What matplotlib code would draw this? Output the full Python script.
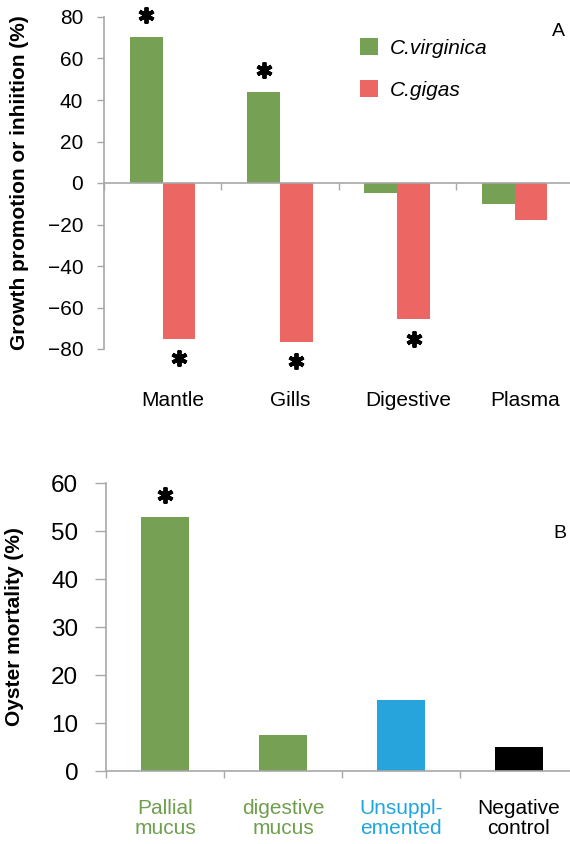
import matplotlib
matplotlib.use('Agg')
import matplotlib.pyplot as plt
import matplotlib.transforms as mtransforms
import numpy as np

plt.rcParams['font.family'] = ['Liberation Sans', 'DejaVu Sans']

# panel A: growth promotion / inhibition by tissue extract
tissues = ['Mantle', 'Gills', 'Digestive', 'Plasma']
virginica = [70.5, 44, -5, -10]
gigas = [-75, -76.5, -65.5, -18]
virginica_sig = [True, True, False, False]
gigas_sig = [True, True, True, False]

# panel B: oyster mortality
treatments = ['Pallial\nmucus', 'digestive\nmucus', 'Unsuppl-\nemented', 'Negative\ncontrol']
mortality = [53, 7.5, 14.8, 5]
mortality_sig = [True, False, False, False]

green = '#76a154'
red = '#ec6663'
blue = '#27a4dc'
gray = '#a8a8a8'
bar_colors = [green, green, blue, 'black']
label_colors = ['#6e9f4c', '#6e9f4c', '#1fa6e0', 'black']

W, H = 570, 844
fig = plt.figure(figsize=(W / 100, H / 100), dpi=100)


def px_axes(left, top, right, bottom):
    return fig.add_axes([left / W, 1 - bottom / H, (right - left) / W, (bottom - top) / H])


def style(ax):
    for s in ['top', 'right']:
        ax.spines[s].set_visible(False)
    for s in ['left', 'bottom']:
        ax.spines[s].set_color(gray)
        ax.spines[s].set_linewidth(1.2)
    ax.spines['bottom'].set_position(('data', 0))
    ax.set_xticks(range(4))
    ax.set_xticklabels([])
    ax.tick_params(axis='x', length=5, width=1, color=gray)


def stars(ax, xs, ys, flags, off):
    sx = [xx for xx, f in zip(xs, flags) if f]
    sy = [yy + (off if yy > 0 else -off) for yy, f in zip(ys, flags) if f]
    ax.plot(sx, sy, ls='none', marker=(6, 2, 0), ms=11.5, mew=2.8, color='black', clip_on=False)


# ---- panel A
axA = px_axes(104, 17, 570, 349)
cat = 117.3
axA.set_xlim(0, (570 - 104) / cat)
axA.set_ylim(-80, 80)
x = np.arange(len(tissues)) + 0.5
w = 0.28
axA.bar(x - w / 2, virginica, w, color=green, label='C.virginica', zorder=2)
axA.bar(x + w / 2, gigas, w, color=red, label='C.gigas', zorder=2)
style(axA)
axA.set_yticks(range(-80, 81, 20))
axA.tick_params(axis='y', length=5, width=1, color=gray, labelsize=15, pad=10)
stars(axA, x - w / 2, virginica, virginica_sig, 10.5)
stars(axA, x + w / 2, gigas, gigas_sig, 9.5)
trA = mtransforms.blended_transform_factory(axA.transData, axA.transAxes)
for i, t in enumerate(tissues):
    axA.text(x[i] + 0.09, -0.154, t, transform=trA, ha='center', va='center', fontsize=15)
axA.legend(loc='upper left', bbox_to_anchor=(360 / W, 1 - 38 / H), bbox_transform=fig.transFigure,
           frameon=False, borderpad=0, borderaxespad=0, handlelength=0.87, handleheight=0.9,
           handletextpad=0.55, labelspacing=1.05, prop={'style': 'italic', 'size': 15})
fig.text(558 / W, 1 - 32 / H, 'A', ha='center', va='center', fontsize=14)
fig.text(20 / W, 1 - 183 / H, 'Growth promotion or inhiition (%)', rotation=90,
         ha='center', va='center', fontsize=15, fontweight='bold')

# ---- panel B
axB = px_axes(106, 483, 570, 771)
cat = 118
axB.set_xlim(0, (570 - 106) / cat)
axB.set_ylim(0, 60)
xb = np.arange(len(treatments)) + 0.5
axB.bar(xb, mortality, 0.41, color=bar_colors, zorder=2)
style(axB)
axB.set_yticks(range(0, 61, 10))
axB.tick_params(axis='y', length=8, width=1, color=gray, labelsize=17.5, pad=12)
stars(axB, xb, mortality, mortality_sig, 4.6)
trB = mtransforms.blended_transform_factory(axB.transData, axB.transAxes)
for i, t in enumerate(treatments):
    axB.text(xb[i], -0.165, t, transform=trB, ha='center', va='center', fontsize=15,
             color=label_colors[i], linespacing=1.1)
fig.text(560 / W, 1 - 533 / H, 'B', ha='center', va='center', fontsize=14)
fig.text(15 / W, 1 - 627 / H, 'Oyster mortality (%)', rotation=90,
         ha='center', va='center', fontsize=15, fontweight='bold')

fig.savefig('out.png', dpi=100)
